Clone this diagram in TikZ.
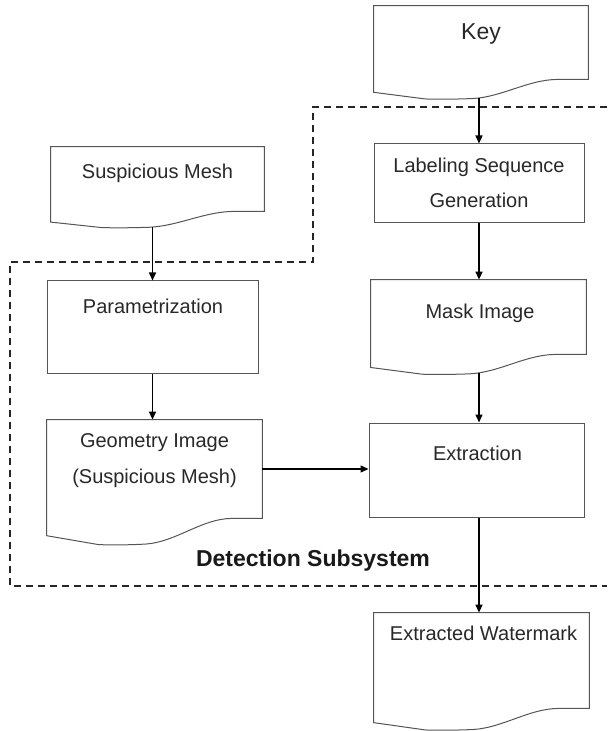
\documentclass[tikz,border=0pt]{standalone}
\usepackage{fontspec}
\setmainfont{Liberation Sans}
\definecolor{LineGray}{RGB}{85,85,85}
\definecolor{InkGray}{RGB}{40,40,40}
\usetikzlibrary{
    arrows.meta,
    positioning,
    calc,
}
% document outline with a wavy bottom, drawn round an empty node
% (#1 = depth of the wave as a share of the node height)
\newcommand{\wavedoc}[2][0.265]{%
    \draw[docline] let \p1=(#2.south west), \p2=(#2.north east),
        \n1={\x2-\x1}, \n2={\y2-\y1}, \n3={#1*\n2} in
        (\x1,{\y1-0.66*\n3}) -- (\x1,\y2) -- (\x2,\y2) -- (\x2,\y1)
        -- ({\x1+0.86*\n1},\y1)
        .. controls ({\x1+0.72*\n1},\y1) and ({\x1+0.6*\n1},{\y1-0.9*\n3}) .. ({\x1+0.46*\n1},{\y1-0.98*\n3})
        .. controls ({\x1+0.36*\n1},{\y1-1.02*\n3}) and ({\x1+0.3*\n1},{\y1-1.02*\n3}) .. ({\x1+0.24*\n1},{\y1-\n3})
        -- cycle;
    \path let \p1=(#2.south west), \p2=(#2.north east),
        \n1={\x2-\x1}, \n2={\y2-\y1}, \n3={#1*\n2} in
        ({\x1+0.5*\n1},{\y1-0.95*\n3}) coordinate (#2-foot);
}

\begin{document}
\begin{tikzpicture}[x=0.5pt, y=-0.5pt,
    box/.style={rectangle, draw=LineGray, line width=0.5pt, inner sep=0pt},
    doc/.style={rectangle, inner sep=0pt},
    docline/.style={draw=LineGray, line width=0.5pt},
    txt/.style={font=\fontsize{10}{18}\selectfont, text=InkGray, align=center, inner sep=0pt},
    flow/.style={-{Triangle[length=4pt, width=3.5pt]}, line width=0.7pt, black},
    frame/.style={dash pattern=on 3.5pt off 2.5pt, line width=0.9pt, black!85}
]
    \useasboundingbox (0,0) rectangle (607,731);
    % left column
    \node[doc, minimum width=106.5pt, minimum height=32pt] (mesh) at (157.5, 179) {};
    \node[box, minimum width=105.5pt, minimum height=46pt] (param) at (152.5, 327) {};
    \node[doc, minimum width=107.5pt, minimum height=49pt] (geom) at (154.5, 469) {};
    % right column
    \node[doc, minimum width=107pt, minimum height=36.5pt] (key) at (481, 42.5) {};
    \node[box, minimum width=105pt, minimum height=39.5pt] (label) at (479, 183.5) {};
    \node[doc, minimum width=107.5pt, minimum height=37pt] (mask) at (478.5, 317) {};
    \node[box, minimum width=107.5pt, minimum height=47pt] (extr) at (476.5, 470) {};
    \node[doc, minimum width=107.5pt, minimum height=47.5pt] (water) at (481.5, 660.5) {};
    \wavedoc[0.25]{mesh}
    \wavedoc{geom}
    \wavedoc{key}
    \wavedoc{mask}
    \wavedoc[0.225]{water}
    % texts
    \node[txt, font=\fontsize{11.5}{14}\selectfont] (key-t) at (481, 34) {Key};
    \node[txt] (mesh-t) at (157.5, 173) {Suspicious Mesh};
    \node[txt] (param-t) at (153, 306) {Parametrization};
    \node[txt] (geom-t) at (154.5, 461) {Geometry Image\\(Suspicious Mesh)};
    \node[txt, font=\fontsize{10}{17.5}\selectfont] (label-t) at (479, 182.5) {Labeling Sequence\\Generation};
    \node[txt] (mask-t) at (480, 313) {Mask Image};
    \node[txt] (extr-t) at (477.5, 453) {Extraction};
    \node[txt] (water-t) at (483.5, 633) {Extracted Watermark};
    \node[txt, font=\fontsize{11.5}{14}\selectfont\bfseries, text=black!90] (sub-t) at (313, 561) {Detection Subsystem};
    % subsystem frame
    \draw[frame] (607,107) -- (313,107) -- (313,262) -- (10,262) -- (10,586) -- (607,586);
    % connectors
    \draw[flow] (mesh-foot -| param.north) -- (param.north);
    \draw[flow] (param.south) -- (param.south |- geom.north);
    \draw[flow] (key-foot -| label.north) -- (label.north);
    \draw[flow] (label.south) -- (label.south |- mask.north);
    \draw[flow] (mask-foot -| label.south) -- (label.south |- extr.north);
    \draw[flow] (geom.east) -- (geom.east -| extr.west);
    \draw[flow] (extr.south -| label.south) -- (label.south |- water.north);
\end{tikzpicture}
\end{document}
